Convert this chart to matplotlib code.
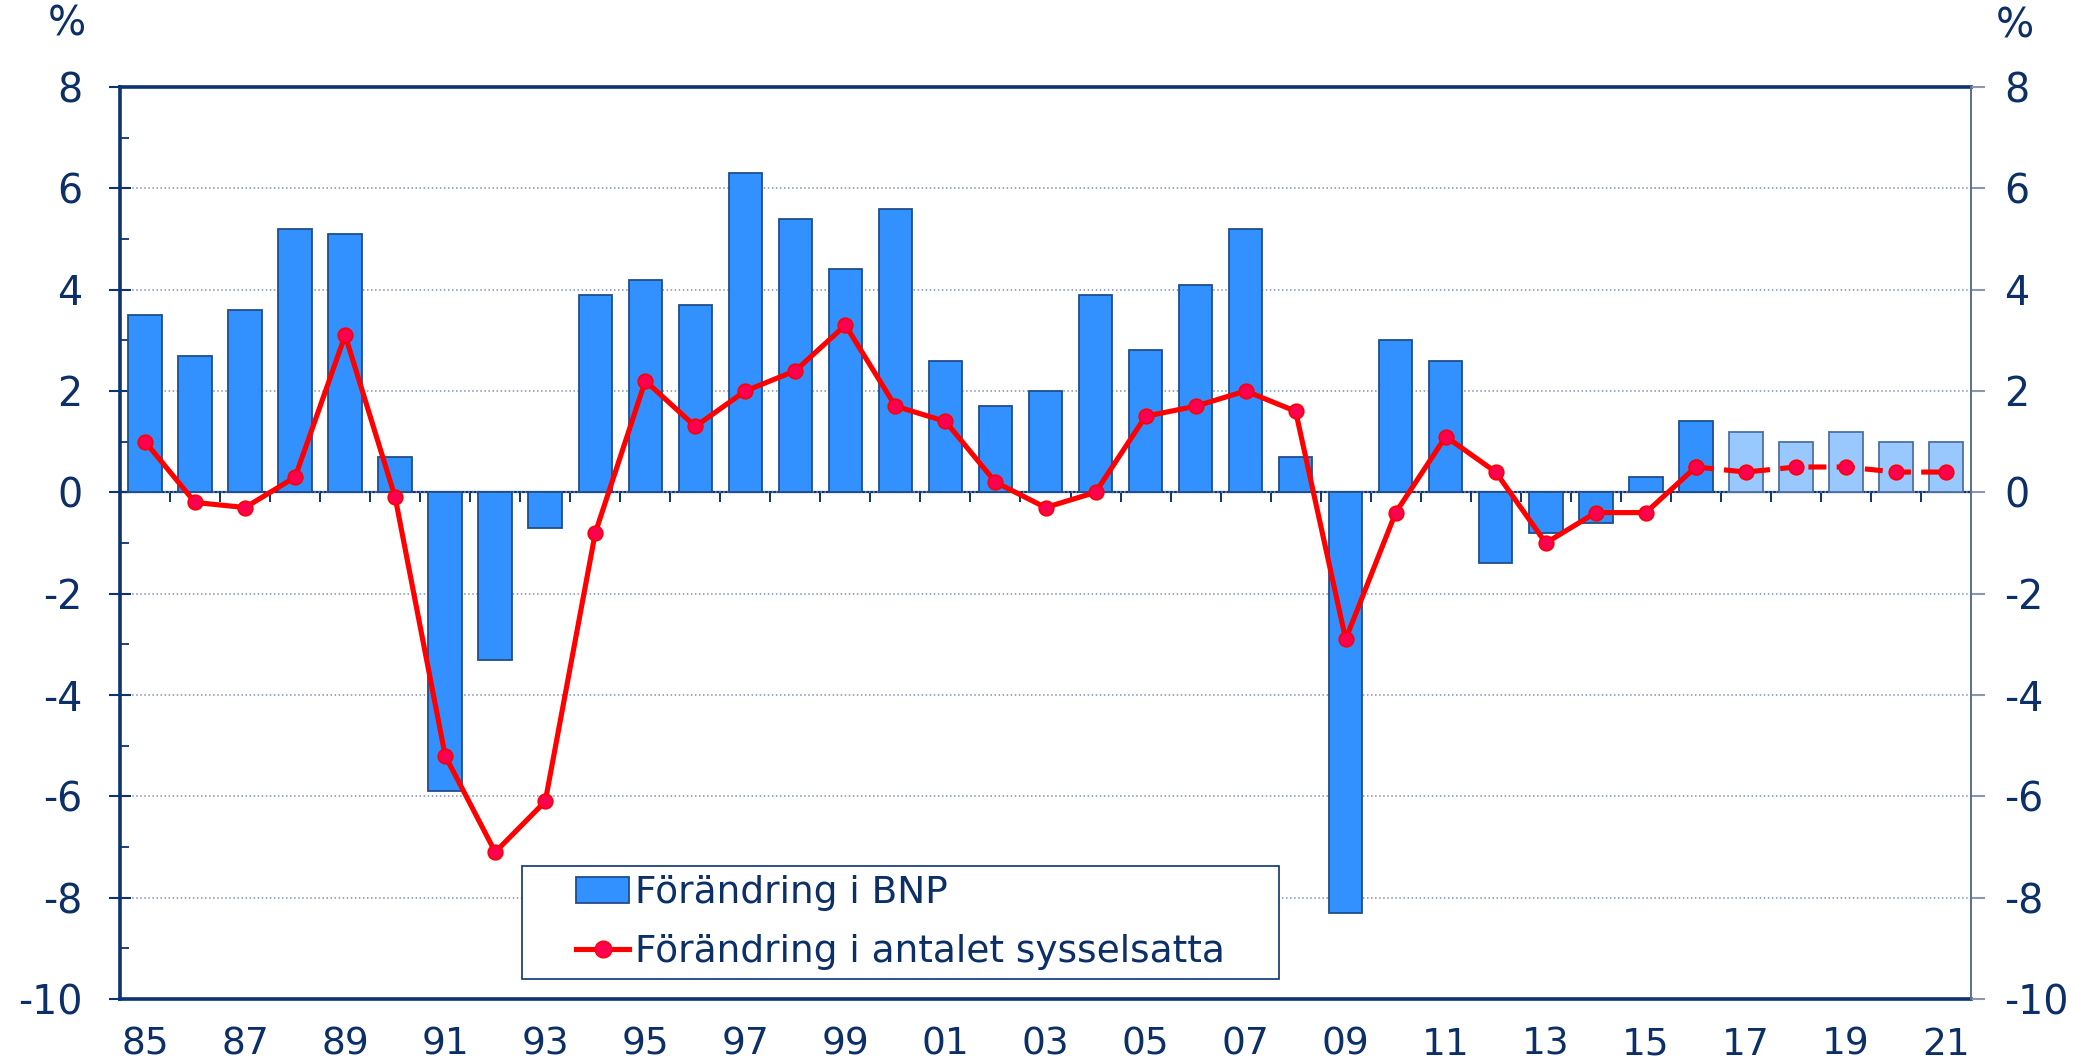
import numpy as np
import matplotlib
matplotlib.use('Agg')
import matplotlib.pyplot as plt
from matplotlib.path import Path
from matplotlib.patches import Patch
from matplotlib.lines import Line2D

plt.rcParams['axes.unicode_minus'] = False

# data, % change per year
years = list(range(1985, 2022))
bnp = [3.5, 2.7, 3.6, 5.2, 5.1, 0.7, -5.9, -3.3, -0.7, 3.9,
       4.2, 3.7, 6.3, 5.4, 4.4, 5.6, 2.6, 1.7, 2.0, 3.9,
       2.8, 4.1, 5.2, 0.7, -8.3, 3.0, 2.6, -1.4, -0.8, -0.6,
       0.3, 1.4, 1.2, 1.0, 1.2, 1.0, 1.0]
sysselsatta = [1.0, -0.2, -0.3, 0.3, 3.1, -0.1, -5.2, -7.1, -6.1, -0.8,
               2.2, 1.3, 2.0, 2.4, 3.3, 1.7, 1.4, 0.2, -0.3, 0.0,
               1.5, 1.7, 2.0, 1.6, -2.9, -0.4, 1.1, 0.4, -1.0, -0.4,
               -0.4, 0.5, 0.4, 0.5, 0.5, 0.4, 0.4]
forecast_from = 2017
labels = ['Förändring i BNP', 'Förändring i antalet sysselsatta']

navy = '#0b2f66'
spine_c = '#0b3470'
bar_c, bar_e = '#3391ff', '#1f4e8c'
fc_c, fc_e = '#99c8ff', '#4f71a0'
red, dot = '#ff0000', '#ff0050'

x = np.arange(len(years))
hist = [y < forecast_from for y in years]
n_hist = hist.count(True)

fig = plt.figure(figsize=(20.95, 10.62), dpi=100)
ax = fig.add_axes([0.0573, 0.0593, 0.8835, 0.8588])

ax.bar(x, bnp, width=0.67,
       color=[bar_c if h else fc_c for h in hist],
       edgecolor=[bar_e if h else fc_e for h in hist],
       linewidth=1.3, zorder=2)

ax.plot(x[:n_hist], sysselsatta[:n_hist], '-', color=red, lw=3.7,
        marker='o', ms=10.5, mfc=dot, mec=red, mew=1.2, zorder=4)
ax.plot(x[n_hist - 1:], sysselsatta[n_hist - 1:], color=red, lw=3.7,
        ls=(0, (3.5, 2)), marker='o', ms=10.5, mfc=dot, mec=red, mew=1.2, zorder=4)

ax.set_xlim(-0.5, len(years) - 0.5)
ax.set_ylim(-10, 8)
ax.set_yticks(range(-10, 9, 2))
ax.set_yticks(range(-9, 8, 2), minor=True)
ax.yaxis.grid(True, which='major', ls=':', color='#7f92b0', lw=1.1, zorder=0)
ax.set_axisbelow(True)

ax.set_xticks(x[::2])
ax.set_xticklabels([f'{y % 100:02d}' for y in years[::2]])
ax.tick_params(axis='x', length=0, labelsize=27, labelcolor=navy, pad=20)
ax.tick_params(axis='y', which='major', direction='inout', length=16, width=1.5,
               color=spine_c, labelsize=28.5, labelcolor=navy, pad=19)
ax.tick_params(axis='y', which='minor', direction='in', length=6.5, width=1.3,
               color=spine_c)

for s in ['left', 'top', 'bottom']:
    ax.spines[s].set_color(spine_c)
    ax.spines[s].set_linewidth(2.6)
ax.spines['right'].set_visible(False)

# right axis
ax2 = ax.twinx()
ax2.set_ylim(-10, 8)
ax2.set_yticks(range(-10, 9, 2))
ax2.tick_params(axis='y', direction='out', length=10, width=1.5, color='#8a97ad',
                labelsize=28.5, labelcolor=navy, pad=14)
for s in ['left', 'top', 'bottom']:
    ax2.spines[s].set_visible(False)
ax2.spines['right'].set_color('#5b6f92')
ax2.spines['right'].set_linewidth(1.4)

# category axis through zero
zero = ax.secondary_xaxis(10 / 18)
zero.set_alignment('bottom')
zero.set_xticks(x[1:] - 0.5)
zero.set_xticklabels([])
zero.tick_params(direction='out', length=7.5, width=1.4, color=spine_c)
zero.spines['bottom'].set_color(spine_c)
zero.spines['bottom'].set_linewidth(1.6)

fig.text(67 / 2095, 1 - 24 / 1062, '%', ha='center', va='center', fontsize=29, color=navy)
fig.text(2015 / 2095, 1 - 27 / 1062, '%', ha='center', va='center', fontsize=29, color=navy)


def wide_box(x0, y0, w, h, mutation_size):
    dx = 1.2 * mutation_size
    return Path([(x0 - dx, y0), (x0 + w + dx, y0), (x0 + w + dx, y0 + h),
                 (x0 - dx, y0 + h), (x0 - dx, y0)], closed=True)


handles = [Patch(facecolor=bar_c, edgecolor=bar_e, lw=1.3),
           Line2D([], [], color=red, lw=3.7, marker='o', ms=12, mfc=dot, mec=red)]
leg = ax.legend(handles, labels, loc='upper left', bbox_to_anchor=(0.2415, 0.1458),
                fontsize=27, frameon=True, fancybox=False, borderpad=0.25,
                labelspacing=0.6, handlelength=1.4, handletextpad=0.15,
                borderaxespad=0, framealpha=1, edgecolor=spine_c)
leg.get_frame().set_linewidth(1.2)
leg.get_frame().set_boxstyle(wide_box)
for t in leg.get_texts():
    t.set_color(navy)
leg.set_zorder(10)

fig.savefig('out.png', dpi=100)
